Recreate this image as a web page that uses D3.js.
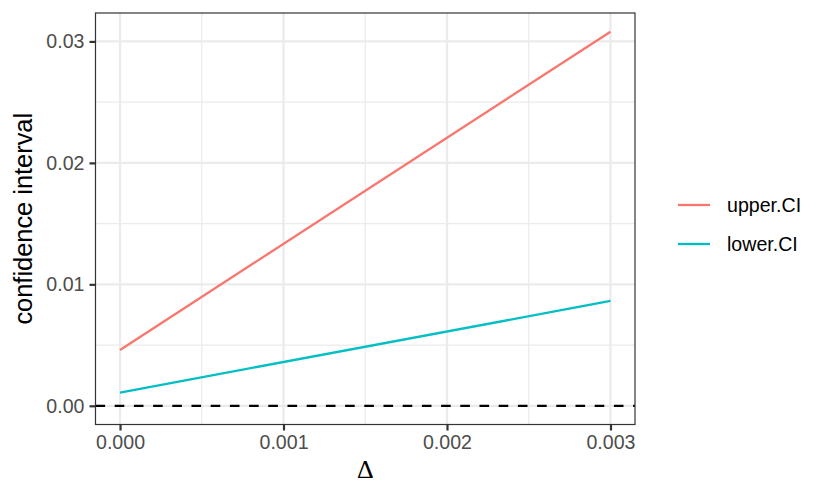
<!DOCTYPE html>
<html>
<head>
<meta charset="utf-8">
<script src="https://cdn.jsdelivr.net/npm/d3@7"></script>
<style>
  body { margin: 0; background: #fff; }
  text { font-family: "Liberation Sans", Arial, sans-serif; }
</style>
</head>
<body>
<div id="chart"></div>
<script>
const WIDTH = 830;
const HEIGHT = 498;
const PANEL = { LEFT: 95.5, RIGHT: 635, TOP: 13, BOTTOM: 424.5 };

// data
const deltas = [0, 0.003];
const upperCI = [0.0046, 0.0308];
const lowerCI = [0.00109, 0.00863];
const seriesNames = ['upper.CI', 'lower.CI'];
const seriesColors = ['#F8766D', '#00BFC4'];
const xTicks = [0, 0.001, 0.002, 0.003];
const xMinor = [0.0005, 0.0015, 0.0025];
const yTicks = [0, 0.01, 0.02, 0.03];
const yMinor = [0.005, 0.015, 0.025];

const series = [upperCI, lowerCI].map((vals, i) => ({
  name: seriesNames[i],
  color: seriesColors[i],
  points: vals.map((v, j) => ({ x: deltas[j], y: v }))
}));

// ggplot-style 5% expansion
const xExt = d3.extent(deltas);
const xPad = (xExt[1] - xExt[0]) * 0.05;
const yMax = d3.max(upperCI.concat(lowerCI));
const yMin = Math.min(0, d3.min(upperCI.concat(lowerCI)));
const yPad = (yMax - yMin) * 0.05;

const x = d3.scaleLinear()
  .domain([xExt[0] - xPad, xExt[1] + xPad])
  .range([PANEL.LEFT, PANEL.RIGHT]);
const y = d3.scaleLinear()
  .domain([yMin - yPad, yMax + yPad])
  .range([PANEL.BOTTOM, PANEL.TOP]);

const svg = d3.select('#chart')
  .append('svg')
    .attr('width', WIDTH)
    .attr('height', HEIGHT);

const grid = svg.append('g');

// minor grid
grid.selectAll('.xminor').data(xMinor).enter().append('line')
  .attr('x1', d => x(d)).attr('x2', d => x(d))
  .attr('y1', PANEL.TOP).attr('y2', PANEL.BOTTOM)
  .attr('stroke', '#EBEBEB').attr('stroke-width', 1.2);
grid.selectAll('.yminor').data(yMinor).enter().append('line')
  .attr('y1', d => y(d)).attr('y2', d => y(d))
  .attr('x1', PANEL.LEFT).attr('x2', PANEL.RIGHT)
  .attr('stroke', '#EBEBEB').attr('stroke-width', 1.2);

// major grid
grid.selectAll('.xmajor').data(xTicks).enter().append('line')
  .attr('x1', d => x(d)).attr('x2', d => x(d))
  .attr('y1', PANEL.TOP).attr('y2', PANEL.BOTTOM)
  .attr('stroke', '#EBEBEB').attr('stroke-width', 2.3);
grid.selectAll('.ymajor').data(yTicks).enter().append('line')
  .attr('y1', d => y(d)).attr('y2', d => y(d))
  .attr('x1', PANEL.LEFT).attr('x2', PANEL.RIGHT)
  .attr('stroke', '#EBEBEB').attr('stroke-width', 2.3);

// zero reference line
svg.append('line')
  .attr('x1', PANEL.LEFT).attr('x2', PANEL.RIGHT)
  .attr('y1', y(0)).attr('y2', y(0))
  .attr('stroke', '#000')
  .attr('stroke-width', 2.3)
  .attr('stroke-dasharray', '9.6,9.6');

// series lines
const line = d3.line().x(d => x(d.x)).y(d => y(d.y));
svg.selectAll('.series').data(series).enter().append('path')
  .attr('d', d => line(d.points))
  .attr('fill', 'none')
  .attr('stroke', d => d.color)
  .attr('stroke-width', 2.3);

// panel border
svg.append('rect')
  .attr('x', PANEL.LEFT).attr('y', PANEL.TOP)
  .attr('width', PANEL.RIGHT - PANEL.LEFT)
  .attr('height', PANEL.BOTTOM - PANEL.TOP)
  .attr('fill', 'none')
  .attr('stroke', '#333333')
  .attr('stroke-width', 1.2);

// axes
const xAxis = svg.append('g')
  .attr('transform', `translate(0, ${PANEL.BOTTOM})`)
  .call(d3.axisBottom(x).tickValues(xTicks).tickFormat(d3.format('.3f'))
    .tickSize(6).tickPadding(5));
const yAxis = svg.append('g')
  .attr('transform', `translate(${PANEL.LEFT}, 0)`)
  .call(d3.axisLeft(y).tickValues(yTicks).tickFormat(d3.format('.2f'))
    .tickSize(6).tickPadding(5));

[xAxis, yAxis].forEach(ax => {
  ax.select('.domain').remove();
  ax.selectAll('.tick line').attr('stroke', '#333333').attr('stroke-width', 2.2);
  ax.selectAll('.tick text')
    .attr('fill', '#4D4D4D')
    .style('font-size', '19.6px')
    .style('font-family', '"Liberation Sans", Arial, sans-serif');
});

// axis titles
svg.append('text')
  .attr('x', (PANEL.LEFT + PANEL.RIGHT) / 2)
  .attr('y', 478)
  .attr('text-anchor', 'middle')
  .style('font-family', '"Liberation Serif", "DejaVu Serif", serif')
  .style('font-size', '26px')
  .text('Δ');

svg.append('text')
  .attr('transform', `translate(32, ${(PANEL.TOP + PANEL.BOTTOM) / 2}) rotate(-90)`)
  .attr('text-anchor', 'middle')
  .style('font-size', '25.4px')
  .text('confidence interval');

// legend
const legend = svg.append('g').attr('transform', 'translate(678, 205)');
const items = legend.selectAll('.item').data(series).enter().append('g')
  .attr('transform', (d, i) => `translate(0, ${i * 39})`);
items.append('line')
  .attr('x1', 0).attr('x2', 32)
  .attr('stroke', d => d.color)
  .attr('stroke-width', 2.3);
items.append('text')
  .attr('x', 49)
  .attr('dy', '0.35em')
  .style('font-size', '19.6px')
  .text(d => d.name);
</script>
</body>
</html>
